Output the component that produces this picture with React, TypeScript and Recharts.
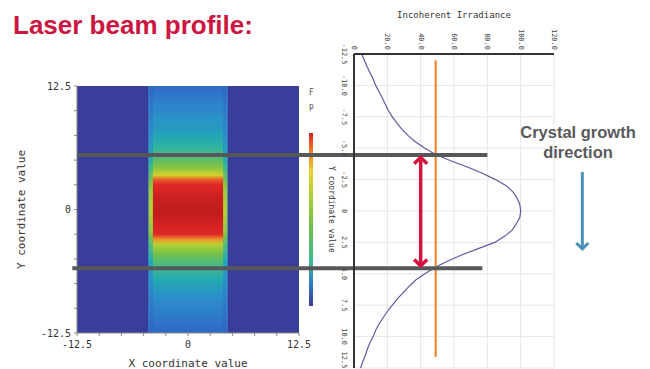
import React from 'react';
import {
  ComposedChart,
  Line,
  XAxis,
  YAxis,
  CartesianGrid,
  ReferenceLine,
  ReferenceArea
} from 'recharts';

// beam position (mm) along the growth direction, and the measured irradiance at each one
const positions = [
  -12.5, -12, -11.5, -11, -10.5, -10, -9.5, -9, -8.5, -8, -7.5, -7, -6.5, -6, -5.5, -5,
  -4.5, -4, -3.5, -3, -2.5, -2, -1.5, -1, -0.5, 0, 0.5, 1, 1.5, 2, 2.5, 3, 3.5, 4, 4.5,
  5, 5.5, 6, 6.5, 7, 7.5, 8, 8.5, 9, 9.5, 10, 10.5, 11, 11.5, 12, 12.5
];
const irradiance = [
  4.6, 6.2, 7.8, 9.6, 11.5, 13, 15, 17, 18.8, 20.6, 23, 25.8, 28.8, 32.5, 37, 42.5,
  49, 58, 68, 77, 85, 91.5, 95.5, 98, 99.5, 100, 99.5, 97.5, 95, 90.5, 84.5, 74.5, 64.5, 56, 48.5,
  42.5, 37, 33, 29.5, 26, 23, 20, 17.5, 15, 13, 11.5, 9.5, 8, 6.8, 5.2, 4
];

const irrTicks = [0, 20, 40, 60, 80, 100, 120];
const posTicks = [-12.5, -10, -7.5, -5, -2.5, 0, 2.5, 5, 7.5, 10, 12.5];
const heatLabelled = [-12.5, 0, 12.5];

// annotations (data units of the irradiance chart)
const fwhmEdges = [-4.45, 4.55];
const guideLeft = [-166, -169]; // the grey guides run back across the heat map
const guideRight = [80, 77];
const threshold = 49;
const thresholdSpan = [-12, 11.6];
const widthArrowAt = 40;
const widthArrowSpan = [-4.35, 4.45];
const growthArrowAt = 137;
const growthArrowSpan = [-3.1, 3.1];

// heat map band (x, mm)
const bandHalf = 4.45;
const coreHalf = 3.95;
const edgeGlow = 4.33;

const profile = positions.map((pos, i) => ({ pos, irr: irradiance[i] }));

const heatStops: [number, string][] = [
  [0, '#3457bb'], [0.05, '#2f6dc7'], [0.1, '#2e80cb'], [0.175, '#2995c6'], [0.25, '#22a9b2'],
  [0.32, '#39b697'], [0.4, '#58bd74'], [0.49, '#78c24a'], [0.6, '#a3cb3a'], [0.68, '#d6d42f'],
  [0.73, '#f0b02c'], [0.77, '#ea5a2a'], [0.82, '#df2a26'], [0.92, '#d82424'], [1, '#c41d1d']
];

function hex(c: string) {
  return [1, 3, 5].map(i => parseInt(c.slice(i, i + 2), 16));
}

function heatColor(v: number) {
  const t = Math.max(0, Math.min(1, v));
  for (let i = 1; i < heatStops.length; i++) {
    const [t1, c1] = heatStops[i];
    const [t0, c0] = heatStops[i - 1];
    if (t <= t1) {
      const f = (t - t0) / (t1 - t0);
      const a = hex(c0);
      const b = hex(c1);
      return `rgb(${a.map((x, k) => Math.round(x + (b[k] - x) * f)).join(',')})`;
    }
  }
  return heatStops[heatStops.length - 1][1];
}

const mono = '"DejaVu Sans Mono", monospace';
const fmt = (v: number) => (v === 0 ? '0' : v.toFixed(1));

function TopTick({ x, y, payload }: any) {
  return (
    <text x={x} y={y} transform={`rotate(90, ${x}, ${y})`} textAnchor="end" dominantBaseline="central"
      fontSize={7} fontFamily={mono} fill="#444">
      {fmt(payload.value)}
    </text>
  );
}

function SideTick({ x, y, payload }: any) {
  return (
    <text x={x} y={y} transform={`rotate(90, ${x}, ${y})`} textAnchor="middle" dominantBaseline="central"
      fontSize={7} fontFamily={mono} fill="#444">
      {fmt(payload.value)}
    </text>
  );
}

function arrow(color: string, width: number, head: number, both: boolean) {
  return (p: any) => {
    const top = Math.min(p.y1, p.y2);
    const bottom = Math.max(p.y1, p.y2);
    const x = p.x1;
    const down = `M${x - head},${bottom - head * 1.15} L${x},${bottom - 1} L${x + head},${bottom - head * 1.15}`;
    const up = `M${x - head},${top + head * 1.15} L${x},${top + 1} L${x + head},${top + head * 1.15}`;
    return (
      <g>
        <line x1={x} y1={both ? top + 2 : top} x2={x} y2={bottom - 2} stroke={color} strokeWidth={width} />
        <path d={down} fill="none" stroke={color} strokeWidth={width} strokeLinejoin="miter" />
        {both && <path d={up} fill="none" stroke={color} strokeWidth={width} strokeLinejoin="miter" />}
      </g>
    );
  };
}

function HeatMap() {
  return (
    <ComposedChart width={650} height={369} data={profile}
      margin={{ top: 86, right: 351, bottom: 0, left: 17 }}>
      <defs>
        <linearGradient id="beamCore" x1="0" y1="0" x2="0" y2="1">
          {profile.map(p => (
            <stop key={p.pos} offset={(p.pos + 12.5) / 25} stopColor={heatColor(p.irr / 100)} />
          ))}
        </linearGradient>
        <linearGradient id="beamEdge" x1="0" y1="0" x2="0" y2="1">
          {profile.map(p => (
            <stop key={p.pos} offset={(p.pos + 12.5) / 25} stopColor={heatColor((p.irr / 100) * 0.63)} />
          ))}
        </linearGradient>
      </defs>
      <XAxis type="number" dataKey="pos" domain={[-12.5, 12.5]} ticks={posTicks} allowDataOverflow
        tickFormatter={(v: number) => (heatLabelled.includes(v) ? String(v) : '')}
        height={36} tickSize={3} tickMargin={5} stroke="#888"
        tick={{ fontSize: 10, fontFamily: mono, fill: '#333' }}
        label={{ value: 'X coordinate value', position: 'insideBottom', offset: 2, fontSize: 11, fontFamily: mono, fill: '#333' }} />
      <YAxis type="number" domain={[-12.5, 12.5]} ticks={posTicks} allowDataOverflow
        tickFormatter={(v: number) => (heatLabelled.includes(v) ? String(v) : '')}
        width={60} tickSize={3} tickMargin={3} stroke="#888"
        tick={{ fontSize: 10, fontFamily: mono, fill: '#333' }}
        label={{ value: 'Y coordinate value', angle: -90, position: 'insideLeft', offset: 4, fontSize: 11, fontFamily: mono, fill: '#333', style: { textAnchor: 'middle' } }} />
      <ReferenceArea x1={-12.5} x2={12.5} y1={-12.5} y2={12.5} fill="#3a3e9b" fillOpacity={1} stroke="none" />
      <ReferenceArea x1={-bandHalf} x2={bandHalf} y1={-12.5} y2={12.5} fill="url(#beamEdge)" fillOpacity={1} stroke="none" />
      <ReferenceArea x1={-coreHalf} x2={coreHalf} y1={-12.5} y2={12.5} fill="url(#beamCore)" fillOpacity={1} stroke="none" />
      <ReferenceArea x1={-bandHalf} x2={-edgeGlow} y1={-12.5} y2={12.5} fill="#48b4d0" fillOpacity={0.35} stroke="none" />
      <ReferenceArea x1={edgeGlow} x2={bandHalf} y1={-12.5} y2={12.5} fill="#48b4d0" fillOpacity={0.35} stroke="none" />
    </ComposedChart>
  );
}

function IrradianceChart() {
  return (
    <ComposedChart width={650} height={369} data={profile} layout="vertical"
      margin={{ top: 30, right: 96, bottom: 1, left: 334 }}>
      <CartesianGrid stroke="#e6e6e6" />
      <XAxis type="number" orientation="top" domain={[0, 120]} ticks={irrTicks} height={24}
        tickLine={false} tickSize={4} tickMargin={0} tick={<TopTick />}
        axisLine={{ stroke: '#333', strokeWidth: 2 }}
        label={{ value: 'Incoherent Irradiance', position: 'top', offset: 12, fontSize: 9, fontFamily: mono, fill: '#333' }} />
      <YAxis type="number" dataKey="pos" domain={[-12.5, 12.5]} ticks={posTicks} width={20}
        tickLine={false} tickSize={10} tickMargin={0} tick={<SideTick />}
        axisLine={{ stroke: '#333', strokeWidth: 2 }} />
      <Line dataKey="irr" type="linear" stroke="#5b5ba0" strokeWidth={1.2} dot={false} isAnimationActive={false} />
      <ReferenceLine ifOverflow="visible" stroke="#ee7d22" strokeWidth={2}
        segment={[{ x: threshold, y: thresholdSpan[0] }, { x: threshold, y: thresholdSpan[1] }]} />
      {fwhmEdges.map((y, i) => (
        <ReferenceLine key={y} ifOverflow="visible" stroke="#58585a" strokeWidth={4}
          segment={[{ x: guideLeft[i], y }, { x: guideRight[i], y }]} />
      ))}
      <ReferenceLine ifOverflow="visible" shape={arrow('#d3123f', 3.5, 6.5, true)}
        segment={[{ x: widthArrowAt, y: widthArrowSpan[0] }, { x: widthArrowAt, y: widthArrowSpan[1] }]} />
      <ReferenceLine ifOverflow="visible" shape={arrow('#4a92b6', 3, 6, false)}
        segment={[{ x: growthArrowAt, y: growthArrowSpan[0] }, { x: growthArrowAt, y: growthArrowSpan[1] }]} />
    </ComposedChart>
  );
}

export default function App() {
  return (
    <div style={{ position: 'absolute', left: 0, top: 0, width: 650, height: 369, background: '#fff', overflow: 'hidden', fontFamily: '"Liberation Sans", Arial, sans-serif' }}>
      <div style={{ position: 'absolute', left: 0, top: 0 }}><HeatMap /></div>
      <div style={{ position: 'absolute', left: 309, top: 133, width: 4, height: 173, background: 'linear-gradient(to bottom, #d42226 0%, #ef6f24 9%, #ecd22e 22%, #a6cc3a 38%, #6cc04a 55%, #3cb89a 75%, #2d78c8 88%, #3a3d99 100%)' }} />
      <div style={{ position: 'absolute', left: 309, top: 86, fontFamily: mono, fontSize: 8, lineHeight: '14px', color: '#555' }}>F<br />p</div>
      <div style={{ position: 'absolute', left: 327, top: 166, writingMode: 'vertical-rl', fontFamily: mono, fontSize: 8, color: '#333' }}>Y coordinate value</div>
      <div style={{ position: 'absolute', left: 0, top: 0 }}><IrradianceChart /></div>
      <div style={{ position: 'absolute', left: 13, top: 12, fontSize: 26, lineHeight: '26px', fontWeight: 700, color: '#cd1541' }}>Laser beam profile:</div>
      <div style={{ position: 'absolute', left: 498, top: 123, width: 160, textAlign: 'center', fontSize: 16.5, lineHeight: '19.5px', fontWeight: 700, color: '#5a5a5c' }}>Crystal growth<br />direction</div>
    </div>
  );
}
